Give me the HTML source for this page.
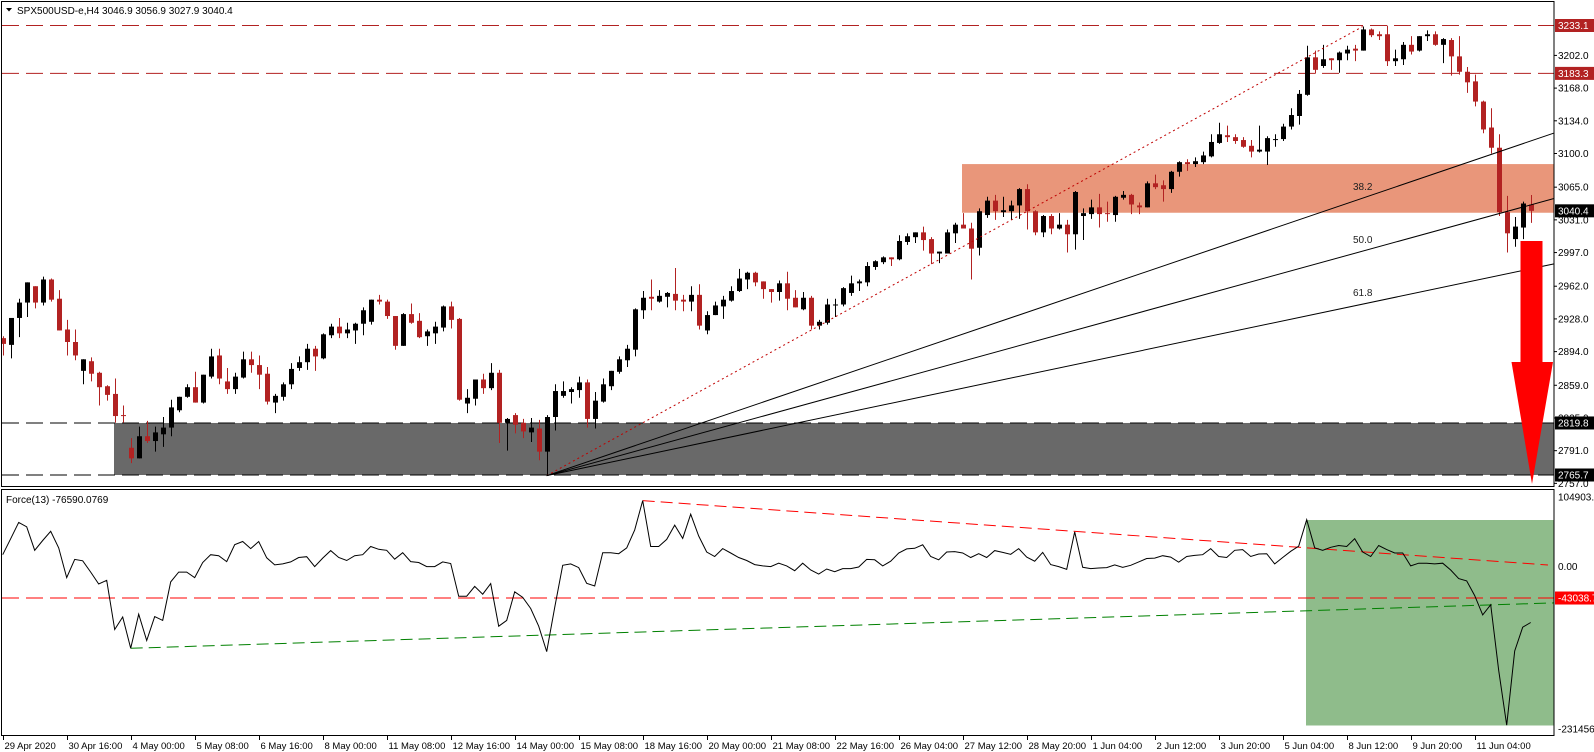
<!DOCTYPE html>
<html><head><meta charset="utf-8"><title>SPX500USD-e H4</title>
<style>
html,body{margin:0;padding:0;background:#fff;width:1594px;height:752px;overflow:hidden}
svg{display:block;font-family:"Liberation Sans",Tahoma,sans-serif}
</style></head>
<body>
<svg id="chart" width="1594" height="752" viewBox="0 0 1594 752" xmlns="http://www.w3.org/2000/svg">
  <rect x="0" y="0" width="1594" height="752" fill="#fff"/>
  <g id="zones"></g>
  <g id="levels"></g>
  <g id="candles"></g>
  <g id="fib"></g>
  <g id="force"></g>
  <g id="axes"></g>
  <g id="frames">
    <rect x="1.5" y="1.5" width="1552.5" height="485" fill="none" stroke="#000" stroke-width="1"/>
    <rect x="1.5" y="489.5" width="1552.5" height="246" fill="none" stroke="#000" stroke-width="1"/>
  </g>
  <g>
    <polygon points="6,8 12,8 9,11.5" fill="#000"/>
    <text x="17" y="14" font-size="10" fill="#000">SPX500USD-e,H4  3046.9 3056.9 3027.9 3040.4</text>
  </g>
  <text x="6" y="503" font-size="10" fill="#000">Force(13) -76590.0769</text>
  <polygon points="1520.5,241 1542.5,241 1542.5,362 1553,362 1532,484 1511.5,362 1520.5,362" fill="#ff0000"/>
</svg>
<script>
// ---- data ----
const opens  = [2908,2901,2929,2945,2962,2945,2969,2949,2917,2904,2874,2884,2872,2858,2850,2828,2794,2783,2806,2801,2808,2815,2833,2847,2857,2841,2868,2890,2863,2855,2867,2886,2880,2871,2841,2847,2860,2877,2883,2897,2887,2911,2920,2913,2916,2923,2925,2948,2946,2931,
2900,2933,2926,2910,2913,2919,2941,2928,2840,2845,2865,2856,2872,2820,2828,2820,2810,2814,2790,2826,2848,2852,2854,2862,2824,2842,2858,2873,2885,2896,2937,2951,2946,2951,2954,2948,2946,2953,2916,2932,2941,2947,2957,2969,2976,2967,2959,2956,2965,2950,
2938,2950,2921,2924,2942,2943,2955,2965,2966,2982,2987,2992,2990,3008,3013,3018,3011,2996,2996,3017,3026,3022,3002,3036,3051,3039,3040,3046,3063,3040,3018,3035,3022,3026,3016,3035,3037,3044,3038,3036,3054,3057,3046,3044,3069,3067,3063,3081,3091,3089,
3091,3097,3111,3119,3117,3114,3108,3102,3102,3114,3115,3128,3139,3161,3200,3191,3199,3197,3204,3209,3207,3229,3224,3224,3196,3198,3213,3207,3222,3224,3213,3218,3201,3185,3175,3154,3127,3106,3039,3011,3023,3046.9];
const highs  = [2910,2929,2949,2966,2962,2972,2970,2958,2927,2917,2886,2888,2873,2859,2866,2838,2804,2816,2822,2816,2826,2844,2847,2860,2873,2870,2897,2897,2877,2872,2894,2894,2890,2878,2850,2862,2882,2889,2902,2900,2913,2923,2929,2924,2924,2940,2948,2953,2948,2931,
2934,2944,2934,2917,2925,2942,2946,2929,2855,2865,2871,2882,2875,2825,2830,2824,2825,2823,2828,2860,2863,2857,2868,2865,2852,2866,2874,2889,2901,2939,2957,2969,2958,2956,2981,2953,2962,2964,2936,2946,2952,2962,2980,2977,2977,2967,2959,2968,2977,2958,
2956,2952,2927,2949,2949,2961,2973,2969,2987,2989,2993,2992,3015,3017,3018,3024,3013,2998,3021,3028,3038,3028,3043,3055,3057,3055,3051,3064,3068,3041,3036,3037,3038,3031,3061,3043,3052,3058,3050,3056,3061,3058,3049,3071,3078,3072,3082,3092,3094,3096,
3102,3120,3132,3129,3120,3117,3114,3129,3118,3120,3131,3147,3166,3212,3207,3213,3199,3206,3212,3213,3232,3230,3227,3233,3208,3216,3222,3222,3228,3227,3220,3220,3222,3190,3182,3155,3147,3120,3056,3034,3050,3056.9];
const lows   = [2890,2887,2909,2930,2939,2942,2946,2916,2890,2885,2860,2863,2838,2843,2820,2820,2778,2783,2799,2790,2795,2806,2831,2846,2841,2840,2866,2860,2850,2850,2866,2872,2855,2839,2830,2843,2855,2874,2875,2874,2886,2908,2908,2908,2902,2911,2922,2943,2928,2896,
2900,2923,2908,2900,2902,2915,2918,2843,2830,2838,2850,2854,2799,2791,2809,2804,2800,2781,2765,2812,2846,2840,2846,2815,2814,2841,2854,2871,2878,2889,2928,2937,2945,2940,2937,2936,2936,2917,2912,2932,2928,2946,2956,2959,2962,2949,2945,2947,2937,2940,
2937,2917,2917,2922,2930,2941,2952,2957,2962,2979,2985,2983,2989,3005,3007,2999,2985,2986,2996,3007,3022,2969,2994,3033,3031,3034,3031,3032,3021,3015,3013,3016,3021,2997,3000,3010,3032,3023,3029,3029,3052,3037,3037,3044,3063,3050,3059,3076,3082,3086,
3089,3096,3110,3112,3110,3106,3096,3101,3088,3107,3113,3125,3130,3160,3183,3189,3187,3184,3197,3196,3207,3221,3218,3191,3191,3192,3203,3206,3217,3212,3194,3181,3182,3163,3149,3121,3100,3035,2997,3003,3011,3027.9];
const closes = [2902,2929,2945,2966,2945,2969,2948,2916,2904,2890,2886,2871,2857,2849,2827,2827,2783,2806,2801,2810,2815,2836,2847,2857,2841,2870,2889,2866,2855,2868,2886,2880,2870,2842,2848,2860,2876,2883,2897,2889,2912,2920,2913,2917,2923,2937,2948,2946,2931,2900,
2933,2924,2909,2915,2920,2941,2927,2844,2846,2865,2856,2872,2820,2824,2818,2811,2815,2790,2826,2853,2853,2855,2862,2824,2843,2860,2874,2886,2897,2938,2950,2949,2952,2955,2947,2946,2953,2921,2932,2942,2948,2957,2970,2976,2966,2959,2956,2965,2949,2940,
2950,2921,2925,2943,2943,2960,2965,2967,2983,2988,2992,2990,3009,3014,3018,3010,2996,2998,3018,3026,3022,3001,3040,3051,3040,3041,3046,3063,3040,3018,3035,3022,3026,3016,3060,3038,3044,3037,3037,3055,3057,3047,3044,3069,3065,3063,3081,3091,3089,3092,
3098,3112,3120,3117,3113,3107,3102,3104,3116,3115,3128,3140,3162,3200,3187,3198,3197,3205,3208,3207,3229,3223,3222,3196,3199,3213,3206,3222,3224,3213,3219,3201,3185,3174,3154,3125,3106,3039,3017,3024,3048,3040.4];
// Force(13) in thousands
const forceK = [16.3,38.2,60.5,54.5,22.3,35.8,48.4,25.6,-15,9.8,7.9,-7.5,-23.8,-18.7,-86.2,-69,-111.9,-65.2,-101.2,-68.5,-73.7,-21,-7.5,-7.5,-15,5.6,16.3,14.9,6.9,30.2,34.4,24.7,34.4,12.1,2.3,3.7,6.5,12.5,13.5,0,11.6,21.9,12.5,8.3,14.9,16.3,27.5,23.7,22.3,10.2,
19.1,6.9,5.6,0,0,6.5,4.2,-40.6,-40.6,-27.1,-37.8,-23.3,-81.6,-73.7,-34.5,-42,-57.4,-81.6,-116.5,-56,1.8,3.7,-1.4,-22.9,-26.6,19.1,19.1,17.7,25.6,50.3,90.4,27.5,27.5,37.2,56.8,38.6,71.8,41.9,20,13.9,24.7,18.6,12.5,8.3,2.8,0.9,0,4.6,0.9,-5.6,
4.6,-4.7,-10.3,-3.3,-7,-2.8,-2.8,-0.5,9.8,9.3,0.9,7.4,18.6,24.2,25.1,29.8,13.9,9.3,20,20.5,18.6,12.5,17.7,12.5,21.9,19.5,16.8,24.7,13,7.4,19.5,2.8,0,-3.8,47.5,-1,-2.8,-1.9,-1.4,2.3,-1,1.8,6.5,11.1,11.6,14.9,13,6,13.9,15.3,
16.3,24.7,13.9,12.5,22.3,23.3,13.9,17.2,17.7,3.7,12.5,20.9,27.9,64.3,25.6,22.3,26.5,28.9,27.5,38.2,20,13.9,28.9,23.3,18.6,18.6,0.9,4.6,4.6,3.7,4.6,-4.7,-16.4,-19.6,-39.7,-66.2,-52.2,-142.2,-217.2,-115.6,-83,-76.6];
const dateLabels = ["29 Apr 2020","30 Apr 16:00","4 May 00:00","5 May 08:00","6 May 16:00","8 May 00:00","11 May 08:00","12 May 16:00","14 May 00:00","15 May 08:00","18 May 16:00","20 May 00:00","21 May 08:00","22 May 16:00","26 May 04:00","27 May 12:00","28 May 20:00","1 Jun 04:00","2 Jun 12:00","3 Jun 20:00","5 Jun 04:00","8 Jun 12:00","9 Jun 20:00","11 Jun 04:00"];
const priceTicks = [3202.0,3168.0,3134.0,3100.0,3065.0,3031.0,2997.0,2962.0,2928.0,2894.0,2859.0,2825.0,2791.0,2757.0];
const resistanceLevels = [3233.1,3183.3];
const supportLevels = [2819.8,2765.7];
const orangeZone = [3089,3038.4];
const fibRatios = [0.382,0.5,0.618];
const fibLabels = ["38.2","50.0","61.8"];
const forceLevel = -43.0387;

// ---- axes ----
const NS = "http://www.w3.org/2000/svg";
const xI = i => 2.7 + 8 * i;
const yP = p => 25.5 + (3233.1 - p) * 0.9617;
const yF = v => 566.6 - v * 0.73;
const RIGHT = 1554;
function mk(tag, attrs, parent) {
  const e = document.createElementNS(NS, tag);
  for (const k in attrs) e.setAttribute(k, attrs[k]);
  parent.appendChild(e);
  return e;
}
const gZones = document.getElementById('zones');
const gLevels = document.getElementById('levels');
const gCandles = document.getElementById('candles');
const gFib = document.getElementById('fib');
const gForce = document.getElementById('force');
const gAxes = document.getElementById('axes');

let z = mk('rect', {x: 114, y: yP(supportLevels[0]), width: RIGHT - 114, height: yP(supportLevels[1]) - yP(supportLevels[0]), fill: '#696969'}, gZones);


z = mk('rect', {x: 962, y: yP(orangeZone[0]), width: RIGHT - 962, height: yP(orangeZone[1]) - yP(orangeZone[0]), fill: '#e9967a'}, gZones);



resistanceLevels.forEach(p => {
  const l = mk('line', {x1: 2, x2: RIGHT, y1: yP(p), y2: yP(p), stroke: '#b22222', 'stroke-width': 1, 'stroke-dasharray': '17 7'}, gLevels);
  
  
});
supportLevels.forEach(p => {
  const l = mk('line', {x1: 2, x2: RIGHT, y1: yP(p), y2: yP(p), stroke: '#000', 'stroke-width': 1, 'stroke-dasharray': '17 7'}, gLevels);
  
  
});

for (let i = 0; i < opens.length; i++) {
  const o = opens[i], h = highs[i], l = lows[i], c = closes[i];
  const col = c >= o ? '#000000' : '#b22222';
  const cx = Math.round(xI(i)) + 0.5;
  const g = mk('g', {}, gCandles);
  
  
  mk('line', {x1: cx, x2: cx, y1: yP(h), y2: yP(l), stroke: col, 'stroke-width': 1}, g);
  const top = yP(Math.max(o, c)), bot = yP(Math.min(o, c));
  mk('rect', {x: cx - 2.5, y: top, width: 5, height: Math.max(1, bot - top), fill: col}, g);
}

const iLow = 68, iHigh = 170;
const pLow = lows[iLow], pHigh = highs[iHigh];
const fl = mk('line', {x1: xI(iLow), y1: yP(pLow), x2: xI(iHigh), y2: yP(pHigh), stroke: '#c00000', 'stroke-width': 1, 'stroke-dasharray': '2 3'}, gFib);


fibRatios.forEach((r, k) => {
  const p = pHigh - (pHigh - pLow) * r;
  const x0 = xI(iLow), y0 = yP(pLow), x1 = xI(iHigh), y1 = yP(p);
  const slope = (y1 - y0) / (x1 - x0);
  const ln = mk('line', {x1: x0, y1: y0, x2: RIGHT, y2: y0 + slope * (RIGHT - x0), stroke: '#000', 'stroke-width': 1}, gFib);
  
  
  const t = mk('text', {x: x1, y: y1 - 8, 'font-size': 10, 'text-anchor': 'middle', fill: '#222'}, gFib);
  t.textContent = fibLabels[k];
  
  
});

let gb = mk('rect', {x: 1306, y: 520, width: RIGHT - 1306, height: 205.5, fill: '#8fbc8b'}, gForce);


let fline = mk('line', {x1: 2, x2: RIGHT, y1: yF(forceLevel), y2: yF(forceLevel), stroke: '#ff0000', 'stroke-width': 1, 'stroke-dasharray': '17 7'}, gForce);


const iTop = 80, iBot = 16;
let rt = mk('line', {x1: xI(iTop), y1: yF(forceK[iTop]), x2: 1548, y2: yF(2.2), stroke: '#ff0000', 'stroke-width': 1, 'stroke-dasharray': '12 6'}, gForce);


let gt = mk('line', {x1: xI(iBot), y1: yF(forceK[iBot]), x2: RIGHT, y2: yF(-49.7), stroke: '#008000', 'stroke-width': 1, 'stroke-dasharray': '12 6'}, gForce);


let pts = forceK.map((v, i) => xI(i).toFixed(1) + ',' + yF(v).toFixed(1)).join(' ');
let fp = mk('polyline', {points: pts, fill: 'none', stroke: '#000', 'stroke-width': 1}, gForce);



priceTicks.forEach(p => {
  mk('line', {x1: RIGHT, x2: RIGHT + 3, y1: yP(p), y2: yP(p), stroke: '#000'}, gAxes);
  const t = mk('text', {x: 1558, y: yP(p) + 3.5, 'font-size': 10, fill: '#000'}, gAxes);
  t.textContent = p.toFixed(1);
  
  
});
function tag(val, y, bg, name) {
  const g = mk('g', {}, gAxes);
  
  
  mk('rect', {x: 1555, y: y - 6.5, width: 39, height: 13, fill: bg}, g);
  const t = mk('text', {x: 1558, y: y + 3.5, 'font-size': 10, fill: '#fff'}, g);
  t.textContent = val;
}
tag('3233.1', yP(3233.1), '#b22222', 'price-tag-resistance');
tag('3183.3', yP(3183.3), '#b22222', 'price-tag-resistance');
tag('3040.4', yP(closes[closes.length - 1]), '#000', 'price-tag-current');
tag('2819.8', yP(2819.8), '#000', 'price-tag-support');
tag('2765.7', yP(2765.7), '#000', 'price-tag-support');
[['104903.9', 497], ['0.00', yF(0)], ['-231456.', 729]].forEach(a => {
  const t = mk('text', {x: 1558, y: a[1] + 3.5, 'font-size': 10, fill: '#000'}, gAxes);
  t.textContent = a[0];
  
  
});
tag('-43038.7', yF(forceLevel), '#ff0000', 'force-level-tag');

dateLabels.forEach((d, k) => {
  const x = Math.round(xI(k * 8)) + 0.5;
  mk('line', {x1: x, x2: x, y1: 735.5, y2: 740, stroke: '#000'}, gAxes);
  const t = mk('text', {x: x + 1, y: 749, 'font-size': 9.5, fill: '#000'}, gAxes);
  t.textContent = d;
  
  
});
</script>
</body></html>
